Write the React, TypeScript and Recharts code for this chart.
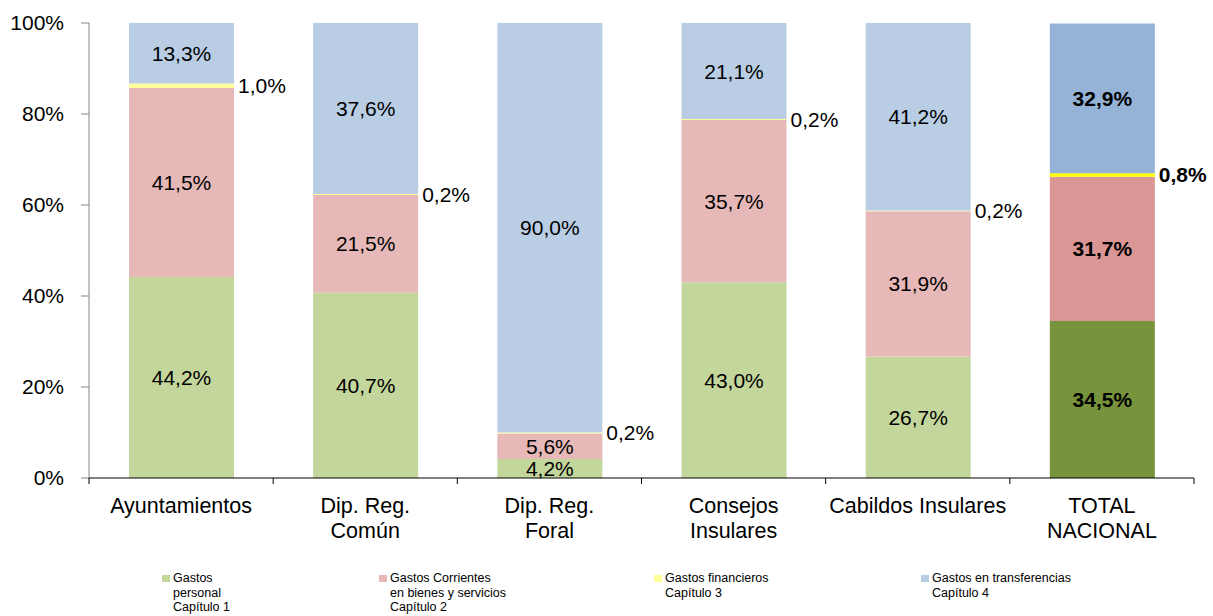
import { Bar, BarChart, Cell, LabelList, XAxis, YAxis } from "recharts";

const categories = [
  "Ayuntamientos",
  "Dip. Reg.\nComún",
  "Dip. Reg.\nForal",
  "Consejos\nInsulares",
  "Cabildos Insulares",
  "TOTAL\nNACIONAL",
];
const personal = [44.2, 40.7, 4.2, 43.0, 26.7, 34.5];
const corrientes = [41.5, 21.5, 5.6, 35.7, 31.9, 31.7];
const financieros = [1.0, 0.2, 0.2, 0.2, 0.2, 0.8];
const transferencias = [13.3, 37.6, 90.0, 21.1, 41.2, 32.9];
const yTicks = [0, 20, 40, 60, 80, 100];

const seriesNames = [
  "Gastos\npersonal\nCapítulo 1",
  "Gastos Corrientes\nen bienes y servicios\nCapítulo 2",
  "Gastos financieros\nCapítulo 3",
  "Gastos en transferencias\nCapítulo 4",
];

// light colours for the groups, strong ones for the national total
const COLORS = ["#c3d69b", "#e6b9b8", "#ffff99", "#b9cde5"];
const TOTAL_COLORS = ["#77933c", "#d99694", "#ffff00", "#95b3d7"];

const W = 1213;
const H = 616;
const PLOT_LEFT = 89;
const PLOT_RIGHT = 1194;
const BAND = (PLOT_RIGHT - PLOT_LEFT) / categories.length;
const FONT = "'Liberation Sans', Arial, sans-serif";

const rows = categories.map((name, i) => ({
  name,
  personal: personal[i],
  corrientes: corrientes[i],
  financieros: financieros[i],
  transferencias: transferencias[i],
}));

const fmt = (v: number) => v.toFixed(1).replace(".", ",") + "%";
const lastIndex = categories.length - 1;

function inside(props: any) {
  const { x, y, width, height, value, index } = props;
  return (
    <text
      x={Number(x) + Number(width) / 2}
      y={Number(y) + Number(height) / 2}
      textAnchor="middle"
      dominantBaseline="central"
      fontSize={21}
      fontWeight={index === lastIndex ? "bold" : "normal"}
      fill="#000"
    >
      {fmt(Number(value))}
    </text>
  );
}

function beside(props: any) {
  const { x, y, width, height, value, index } = props;
  return (
    <text
      x={Number(x) + Number(width) + 4}
      y={Number(y) + Number(height) / 2}
      textAnchor="start"
      dominantBaseline="central"
      fontSize={21}
      fontWeight={index === lastIndex ? "bold" : "normal"}
      fill="#000"
    >
      {fmt(Number(value))}
    </text>
  );
}

function CategoryTick(props: any) {
  const { x, y, payload, index } = props;
  const half = payload?.offset > 10 ? payload.offset : BAND / 2;
  const lines = String(payload.value).split("\n");
  return (
    <g>
      <line x1={x - half} x2={x - half} y1={y} y2={y + 6} stroke="#000" />
      {index === lastIndex && <line x1={x + half} x2={x + half} y1={y} y2={y + 6} stroke="#000" />}
      <text x={x} y={y + 35} textAnchor="middle" fontSize={21.5} fill="#000">
        {lines.map((l, i) => (
          <tspan key={i} x={x} dy={i === 0 ? 0 : 25}>
            {l}
          </tspan>
        ))}
      </text>
    </g>
  );
}

const legendLeft = [162, 379, 654, 921];

export default function App() {
  const keys = ["personal", "corrientes", "financieros", "transferencias"];
  return (
    <div style={{ position: "absolute", left: 0, top: 0, width: W, height: H, fontFamily: FONT, background: "#fff" }}>
      <BarChart
        width={W}
        height={H}
        data={rows}
        margin={{ top: 23, right: W - PLOT_RIGHT, bottom: 0, left: 0 }}
        barSize={105}
      >
        <YAxis
          domain={[0, 100]}
          ticks={yTicks}
          allowDataOverflow
          width={PLOT_LEFT}
          tickFormatter={(v) => `${v}%`}
          tick={{ fontSize: 21, fill: "#000" }}
          tickSize={8}
          tickMargin={17}
          axisLine={{ stroke: "#868686" }}
          tickLine={{ stroke: "#868686" }}
        />
        <XAxis
          dataKey="name"
          height={H - 478}
          interval={0}
          tickLine={false}
          tickSize={0}
          tickMargin={0}
          axisLine={{ stroke: "#000" }}
          tick={<CategoryTick />}
        />
        {keys.map((k, s) => (
          <Bar key={k} dataKey={k} stackId="a" fill={COLORS[s]} isAnimationActive={false}>
            {rows.map((_, i) => (
              <Cell key={i} fill={i === lastIndex ? TOTAL_COLORS[s] : COLORS[s]} />
            ))}
            <LabelList dataKey={k} content={k === "financieros" ? beside : inside} />
          </Bar>
        ))}
      </BarChart>
      {seriesNames.map((name, s) => (
        <div
          key={name}
          style={{
            position: "absolute",
            left: legendLeft[s],
            top: 571,
            display: "flex",
            alignItems: "flex-start",
            fontSize: 12.5,
            lineHeight: "14.5px",
            color: "#000",
          }}
        >
          <span style={{ width: 8, height: 7, marginTop: 4, marginRight: 3, background: COLORS[s], display: "inline-block" }} />
          <span style={{ whiteSpace: "pre" }}>{name}</span>
        </div>
      ))}
    </div>
  );
}
